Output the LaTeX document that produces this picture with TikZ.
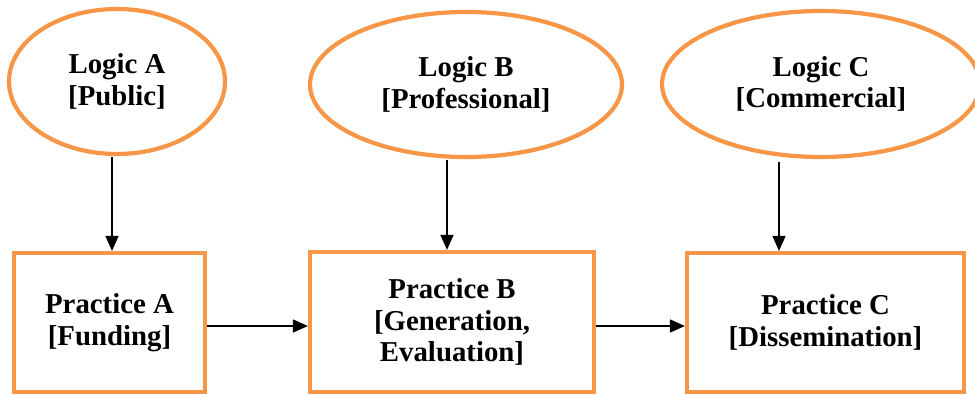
\documentclass[tikz,border=0pt]{standalone}
\usepackage{fontspec}
\setmainfont{Liberation Serif}
\usetikzlibrary{shapes.geometric,arrows.meta}
\definecolor{accent}{HTML}{F79646}
\tikzset{
  logic/.style={ellipse, draw=accent, line width=4.2pt, inner sep=0pt, align=center,
    font=\fontsize{28.8pt}{31.5pt}\selectfont\bfseries},
  practice/.style={rectangle, draw=accent, line width=4.2pt, inner sep=0pt, align=center,
    font=\fontsize{28.8pt}{31.5pt}\selectfont\bfseries},
  link/.style={draw=black, line width=1.5pt, -{Triangle[length=15pt,width=13pt]}}
}
\begin{document}
\begin{tikzpicture}[x=1pt,y=-1pt]
  \useasboundingbox (0,0) rectangle (975,394);
  \clip (0,0) rectangle (975,394);
  % institutional logics
  \node[logic, minimum width=216pt, minimum height=145pt] (ellA) at (117,81.5) {Logic A\\{}[Public]};
  \node[logic, minimum width=312pt, minimum height=145pt] (ellB) at (466,84.5) {Logic B\\{}[Professional]};
  \node[logic, minimum width=318pt, minimum height=146pt] (ellC) at (821,84) {Logic C\\{}[Commercial]};
  % practices
  \node[practice, minimum width=191pt, minimum height=139pt] (boxA) at (109.5,322.5) {Practice A\\{}[Funding]};
  \node[practice, minimum width=284pt, minimum height=140pt] (boxB) at (452,322) {Practice B\\{}[Generation,\\Evaluation]};
  \node[practice, minimum width=277pt, minimum height=139pt] (boxC) at (825.5,322.5) {Practice C\\{}[Dissemination]};
  % arrow columns
  \coordinate (xa) at (112,0);
  \coordinate (xb) at (447,0);
  \coordinate (xc) at (779,0);
  \draw[link] ([yshift=-1pt]xa |- ellA.south) -- (xa |- boxA.north);
  \draw[link] ([yshift=-1pt]xb |- ellB.south) -- (xb |- boxB.north);
  \draw[link] ([yshift=-3pt]xc |- ellC.south) -- (xc |- boxC.north);
  % sequence of practices
  \draw[link] ([yshift=-3.5pt]boxA.east) -- ([yshift=-3.5pt]boxA.east -| boxB.west);
  \draw[link] ([yshift=-4pt]boxB.east) -- ([yshift=-4pt]boxB.east -| boxC.west);
\end{tikzpicture}
\end{document}
